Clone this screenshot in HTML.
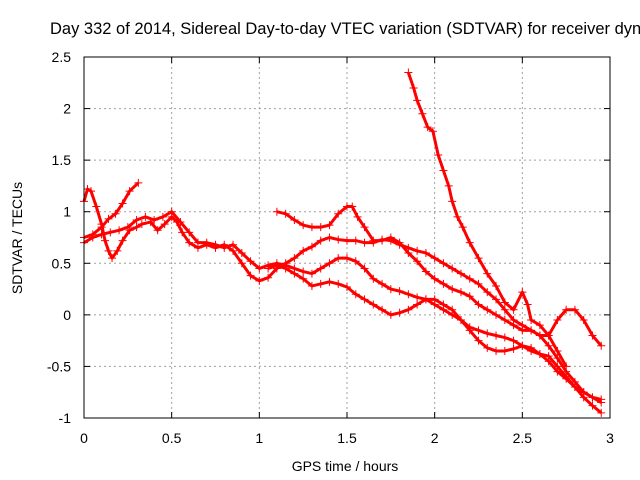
<!DOCTYPE html>
<html><head><meta charset="utf-8"><style>
html,body{margin:0;padding:0;background:#fff;overflow:hidden;}
svg{display:block;font-family:"Liberation Sans",sans-serif;}
</style></head><body>
<svg id="chart" width="640" height="480" viewBox="0 0 640 480">
<rect width="640" height="480" fill="#fff"/>
<text x="50" y="34" font-size="16.5" fill="#000">Day 332 of 2014, Sidereal Day-to-day VTEC variation (SDTVAR) for receiver dyng</text>
<text x="345" y="471" font-size="14" text-anchor="middle">GPS time / hours</text>
<text transform="translate(22,238) rotate(-90)" font-size="14" text-anchor="middle">SDTVAR / TECUs</text>
<g id="grid"></g>
<g id="marks"></g>
<rect x="84" y="57" width="526" height="361" fill="none" stroke="#000" stroke-width="1"/>
<g id="ticks"></g>
</svg>
<script>
const xTicks=[0,0.5,1,1.5,2,2.5,3];
const xTickLabels=["0","0.5","1","1.5","2","2.5","3"];
const yTicks=[-1,-0.5,0,0.5,1,1.5,2,2.5];
const yTickLabels=["-1","-0.5","0","0.5","1","1.5","2","2.5"];
const seriesA=[[0,1.1],[0.02,1.22],[0.04,1.2],[0.07,1.05],[0.1,0.88],[0.12,0.72],[0.14,0.62],[0.16,0.55],[0.19,0.62],[0.22,0.72],[0.26,0.82],[0.3,0.85],[0.33,0.88],[0.38,0.9],[0.42,0.82],[0.46,0.88],[0.5,0.95],[0.53,0.9],[0.56,0.8],[0.6,0.7],[0.65,0.65],[0.7,0.68],[0.75,0.65],[0.8,0.68],[0.85,0.62],[0.9,0.5],[0.95,0.38],[1.0,0.33],[1.05,0.36],[1.1,0.45],[1.15,0.5],[1.2,0.55],[1.25,0.62],[1.3,0.66],[1.35,0.72],[1.4,0.75],[1.45,0.73],[1.5,0.72],[1.55,0.72],[1.6,0.7],[1.65,0.7],[1.7,0.73],[1.75,0.72],[1.8,0.68],[1.85,0.65],[1.9,0.62],[1.95,0.6],[2.0,0.55],[2.05,0.5],[2.1,0.45],[2.15,0.4],[2.2,0.35],[2.25,0.3],[2.3,0.22],[2.35,0.15],[2.4,0.05],[2.45,-0.05],[2.5,-0.1],[2.55,-0.15],[2.6,-0.2],[2.65,-0.3],[2.7,-0.42],[2.75,-0.55],[2.8,-0.65],[2.85,-0.75],[2.9,-0.8],[2.95,-0.85]];
const seriesB=[[0.0,0.75],[0.05,0.78],[0.1,0.85],[0.14,0.93],[0.18,0.98],[0.22,1.08],[0.26,1.2],[0.31,1.28]];
const seriesC=[[0,0.7],[0.05,0.75],[0.1,0.78],[0.15,0.8],[0.2,0.82],[0.25,0.85],[0.3,0.92],[0.35,0.95],[0.4,0.92],[0.45,0.95],[0.5,1.0],[0.55,0.9],[0.6,0.8],[0.65,0.7],[0.7,0.7],[0.75,0.68],[0.8,0.65],[0.85,0.68],[0.9,0.6],[0.95,0.52],[1.0,0.45],[1.05,0.48],[1.1,0.5],[1.15,0.48],[1.2,0.45],[1.25,0.42],[1.3,0.4],[1.35,0.45],[1.4,0.5],[1.45,0.55],[1.5,0.55],[1.55,0.52],[1.6,0.45],[1.65,0.35],[1.7,0.3],[1.75,0.25],[1.8,0.23],[1.85,0.2],[1.9,0.17],[1.95,0.15],[2.0,0.1],[2.05,0.05],[2.1,0.0],[2.15,-0.05],[2.2,-0.12],[2.25,-0.15],[2.3,-0.18],[2.35,-0.2],[2.4,-0.22],[2.45,-0.25],[2.5,-0.3],[2.55,-0.32],[2.6,-0.38],[2.65,-0.45],[2.7,-0.55],[2.75,-0.62],[2.8,-0.7],[2.85,-0.75],[2.9,-0.8],[2.95,-0.82]];
const seriesD=[[1.05,0.45],[1.1,0.48],[1.15,0.45],[1.2,0.4],[1.25,0.35],[1.3,0.28],[1.35,0.3],[1.4,0.32],[1.45,0.3],[1.5,0.27],[1.55,0.2],[1.6,0.15],[1.65,0.1],[1.7,0.05],[1.75,0.0],[1.8,0.02],[1.85,0.05],[1.9,0.1],[1.95,0.15],[2.0,0.15],[2.05,0.1],[2.1,0.05],[2.15,-0.05],[2.2,-0.15],[2.25,-0.25],[2.3,-0.32],[2.35,-0.35],[2.4,-0.35],[2.45,-0.33],[2.5,-0.3],[2.55,-0.35],[2.6,-0.38],[2.65,-0.4],[2.7,-0.5],[2.75,-0.6],[2.8,-0.7],[2.85,-0.8],[2.9,-0.88],[2.95,-0.95]];
const seriesE=[[1.1,1.0],[1.15,0.98],[1.2,0.92],[1.25,0.87],[1.3,0.85],[1.35,0.85],[1.4,0.87],[1.45,0.98],[1.5,1.05],[1.53,1.05],[1.56,0.95],[1.6,0.85],[1.65,0.72],[1.7,0.72],[1.75,0.75],[1.8,0.7],[1.85,0.6],[1.9,0.52],[1.95,0.42],[2.0,0.35],[2.05,0.3],[2.1,0.25],[2.15,0.22],[2.2,0.18],[2.25,0.1],[2.3,0.05],[2.35,0.0],[2.4,-0.05],[2.45,-0.1],[2.5,-0.15],[2.55,-0.15],[2.6,-0.2],[2.65,-0.2],[2.7,-0.05],[2.75,0.05],[2.8,0.05],[2.85,-0.05],[2.9,-0.2],[2.95,-0.3]];
const seriesF=[[1.85,2.35],[1.88,2.2],[1.9,2.08],[1.93,1.95],[1.96,1.82],[1.99,1.78],[2.02,1.55],[2.05,1.4],[2.08,1.25],[2.1,1.1],[2.13,0.95],[2.16,0.85],[2.2,0.7],[2.25,0.55],[2.3,0.4],[2.35,0.28],[2.4,0.12],[2.45,0.05],[2.5,0.22],[2.53,0.1],[2.55,-0.05],[2.6,-0.1],[2.65,-0.2],[2.7,-0.35],[2.75,-0.5]];
const allSeries=[seriesA,seriesB,seriesC,seriesD,seriesE,seriesF];
const NS="http://www.w3.org/2000/svg";
const X0=84,X1=610,Y0=418,Y1=57;
function xs(v){return X0+(v-0)/(3-0)*(X1-X0);}
function ys(v){return Y0-(v+1)/(3.5)*(Y0-Y1);}
const grid=document.getElementById('grid'),ticks=document.getElementById('ticks'),marks=document.getElementById('marks');
function mk(t,a,p){const e=document.createElementNS(NS,t);for(const k in a)e.setAttribute(k,a[k]);p.appendChild(e);return e;}
xTicks.forEach((v,i)=>{const x=xs(v);
 if(i>0&&i<xTicks.length-1){const g=mk('line',{x1:x,x2:x,y1:Y1,y2:Y0,stroke:'#a0a0a0','stroke-dasharray':'2,3'},grid);
 
 }
 mk('line',{x1:x,x2:x,y1:Y0,y2:Y0-6,stroke:'#000'},ticks);mk('line',{x1:x,x2:x,y1:Y1,y2:Y1+6,stroke:'#000'},ticks);
 const t=mk('text',{x:x,y:443,'font-size':14,'text-anchor':'middle'},ticks);t.textContent=xTickLabels[i];
 
 });
yTicks.forEach((v,i)=>{const y=ys(v);
 if(i>0&&i<yTicks.length-1){const g=mk('line',{x1:X0,x2:X1,y1:y,y2:y,stroke:'#a0a0a0','stroke-dasharray':'2,3'},grid);
 
 }
 mk('line',{x1:X0,x2:X0+6,y1:y,y2:y,stroke:'#000'},ticks);mk('line',{x1:X1,x2:X1-6,y1:y,y2:y,stroke:'#000'},ticks);
 const t=mk('text',{x:71,y:y+5,'font-size':14,'text-anchor':'end'},ticks);t.textContent=yTickLabels[i];
 
 });
allSeries.forEach((s,si)=>{
 const pl=mk('polyline',{points:s.map(p=>xs(p[0])+','+ys(p[1])).join(' '),fill:'none',stroke:'#f00','stroke-width':3,'stroke-linejoin':'round'},marks);
 
 
 s.forEach(p=>{const x=xs(p[0]),y=ys(p[1]);
  const m=mk('path',{d:`M${x-4},${y}H${x+4}M${x},${y-4}V${y+4}`,stroke:'#f00','stroke-width':1},marks);
  
  });
});
</script>
</body></html>
